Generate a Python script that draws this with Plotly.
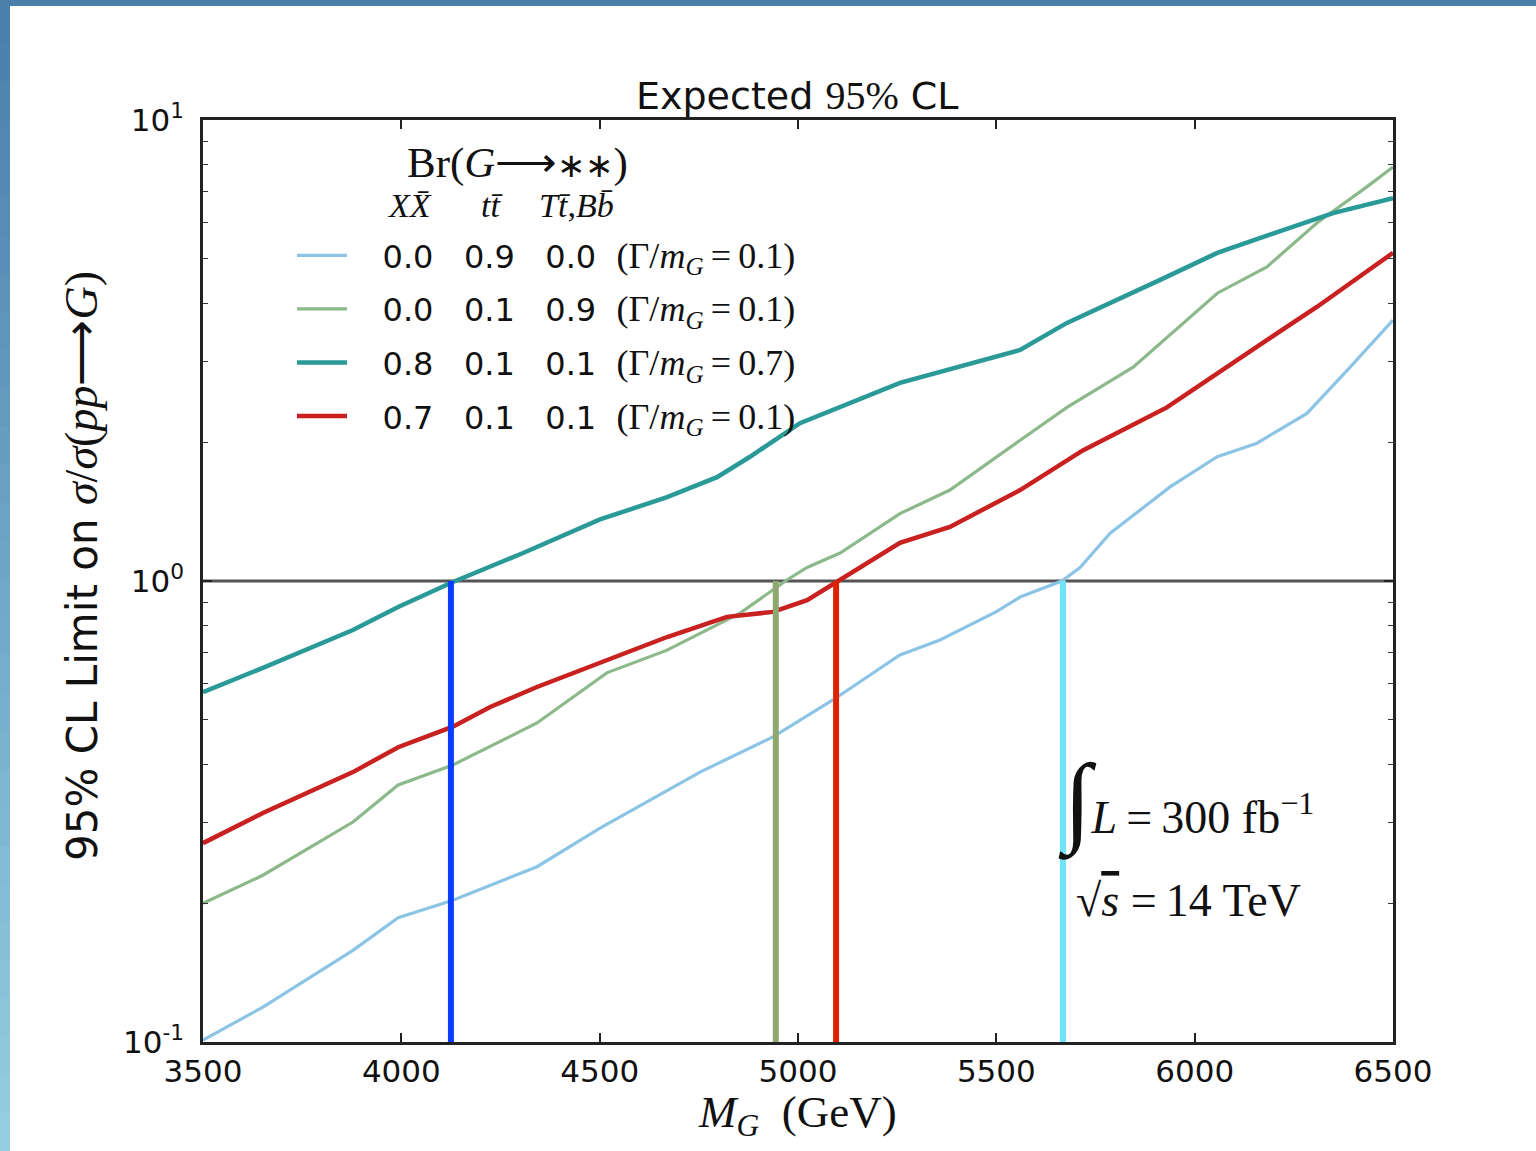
import plotly.graph_objects as go

# ---------------- data ----------------
mass_blue = [3500, 3651, 3878, 3992, 4130, 4342, 4501, 4627, 4753, 4937, 5088, 5257, 5358, 5499, 5560, 5665, 5711, 5787, 5938, 6057, 6157, 6283, 6392, 6500]
lim_blue = [0.101, 0.119, 0.158, 0.186, 0.203, 0.240, 0.291, 0.335, 0.385, 0.459, 0.552, 0.691, 0.745, 0.857, 0.923, 1.0, 1.07, 1.27, 1.60, 1.86, 1.99, 2.31, 2.91, 3.68]

mass_green = [3500, 3651, 3878, 3992, 4130, 4342, 4518, 4670, 4854, 4972, 5023, 5106, 5257, 5383, 5560, 5678, 5845, 6057, 6182, 6308, 6434, 6500]
lim_green = [0.200, 0.230, 0.300, 0.361, 0.399, 0.492, 0.632, 0.708, 0.852, 1.005, 1.07, 1.15, 1.40, 1.575, 2.02, 2.38, 2.91, 4.21, 4.80, 5.98, 7.16, 7.91]

mass_teal = [3500, 3651, 3878, 3992, 4130, 4307, 4501, 4670, 4796, 4879, 5005, 5257, 5560, 5678, 5913, 6057, 6223, 6349, 6500]
lim_teal = [0.574, 0.648, 0.783, 0.878, 0.995, 1.15, 1.36, 1.52, 1.68, 1.86, 2.20, 2.69, 3.17, 3.63, 4.50, 5.15, 5.77, 6.28, 6.77]

mass_red = [3500, 3651, 3878, 3992, 4130, 4224, 4342, 4518, 4670, 4821, 4937, 5023, 5106, 5257, 5383, 5560, 5718, 5930, 6182, 6308, 6500]
lim_red = [0.270, 0.314, 0.385, 0.436, 0.483, 0.533, 0.589, 0.674, 0.756, 0.836, 0.857, 0.909, 1.005, 1.21, 1.31, 1.575, 1.92, 2.38, 3.33, 3.93, 5.15]

legend_labels = [
    ("0.0", "0.9", "0.0", "0.1"),
    ("0.0", "0.1", "0.9", "0.1"),
    ("0.8", "0.1", "0.1", "0.7"),
    ("0.7", "0.1", "0.1", "0.1"),
]

# mass exclusion points where each limit crosses 1
excl_mass = [4125, 4944, 5096, 5668]
excl_colors = ["#0a3cff", "#8fa870", "#dd2200", "#6fe3f7"]

x_ticks = [3500, 4000, 4500, 5000, 5500, 6000, 6500]
y_ticks = [0.1, 1, 10]
y_ticktext = ["10<sup>-1</sup>", "10<sup>0</sup>", "10<sup>1</sup>"]
y_minor = [0.2, 0.3, 0.4, 0.5, 0.6, 0.7, 0.8, 0.9, 2, 3, 4, 5, 6, 7, 8, 9]

# ---------------- styling ----------------
SANS = "DejaVu Sans"
SERIF = "Liberation Serif"
W, H = 1536, 1151
L, R, T, B = 203, 1393, 120, 1042
PW, PH = R - L, B - T


def px(xp):
    return (xp - L) / PW


def py(yp):
    return (B - yp) / PH


NB = "\u00a0"
TH = "\u2009"


def leg_text(a, b, c, g):
    sp = NB * 3
    return (f"{NB*3}{a}{sp}{b}{sp}{c}{NB*2}"
            f"<span style='font-family:{SERIF};font-size:36px'>(\u0393/<i>m</i><sub><i>G</i></sub>{TH}={TH}{g})</span>")


fig = go.Figure()

# reference line at limit = 1
fig.add_trace(go.Scatter(x=[x_ticks[0], x_ticks[-1]], y=[1, 1], mode="lines",
                         line=dict(color="#555555", width=3), showlegend=False, hoverinfo="skip"))

series = [
    (mass_blue, lim_blue, "#8cc4e6", 3.2),
    (mass_green, lim_green, "#8cb98a", 3.2),
    (mass_teal, lim_teal, "#2a9a98", 4.5),
    (mass_red, lim_red, "#c8211f", 4.5),
]
for i, (xs, ys, col, w) in enumerate(series):
    fig.add_trace(go.Scatter(x=xs, y=ys, mode="lines", line=dict(color=col, width=w),
                             name=leg_text(*legend_labels[i]), legendgroup=f"g{i}"))

for m, col in zip(excl_mass, excl_colors):
    fig.add_trace(go.Scatter(x=[m, m], y=[0.1, 1], mode="lines",
                             line=dict(color=col, width=6), showlegend=False, hoverinfo="skip"))

axis_common = dict(showline=True, linecolor="#222222", linewidth=2.5, mirror="ticks",
                   ticks="inside", tickcolor="#222222", showgrid=False, zeroline=False)

fig.update_xaxes(range=[3500, 6500], tickvals=x_ticks, ticklen=9, tickwidth=1.5,
                 tickfont=dict(family=SANS, size=31, color="#111111"), **axis_common)
fig.update_yaxes(type="log", range=[-1, 1], tickvals=y_ticks, ticktext=y_ticktext,
                 ticklen=9, tickwidth=1.5, ticklabelstandoff=10,
                 tickfont=dict(family=SANS, size=31, color="#111111"),
                 minor=dict(tickvals=y_minor, ticks="inside", ticklen=5, tickwidth=1.2, tickcolor="#333333"),
                 **axis_common)

annotations = [
    dict(text=f"Expected <span style='font-family:{SERIF};font-size:40px'>95%</span> CL", x=px(797), y=py(95),
         font=dict(family=SANS, size=38, color="#111111")),
    dict(text=f"95% CL Limit on <span style='font-family:{SERIF};font-size:46px'><i>\u03c3</i>/<i>\u03c3</i>(<i>pp</i>\u27f6<i>G</i>)</span>",
         x=px(81), y=py(566), textangle=-90, font=dict(family=SANS, size=42, color="#111111")),
    dict(text="<i>M</i><sub><i>G</i></sub>" + NB * 2 + "(GeV)", x=px(797), y=py(1115),
         font=dict(family=SERIF, size=45, color="#111111")),
    dict(text="Br(<i>G</i>\u27f6<span style='font-size:34px'>\u2217\u2217</span>)", x=px(517), y=py(163),
         font=dict(family=SERIF, size=43, color="#111111")),
    dict(text="<i>X</i><i>X\u0304</i>", x=px(409), y=py(205), font=dict(family=SERIF, size=34, color="#111111")),
    dict(text="<i>t</i><i>t\u0304</i>", x=px(492), y=py(205), font=dict(family=SERIF, size=34, color="#111111")),
    dict(text="<i>T</i><i>t\u0304</i>,<i>B</i><i>b\u0304</i>", x=px(576), y=py(205),
         font=dict(family=SERIF, size=34, color="#111111")),
    dict(text="<span style='font-size:100px'>\u222b</span><i>L</i>" + TH + "=" + TH + "300 fb<sup>\u22121</sup>",
         x=px(1056), y=py(802), xanchor="left", font=dict(family=SERIF, size=46, color="#111111")),
    dict(text="\u221a<span style='text-decoration:overline'><i>s</i></span>" + NB + "=" + TH + "14 TeV",
         x=px(1074), y=py(900), xanchor="left", font=dict(family=SERIF, size=46, color="#111111")),
]
for a in annotations:
    a.setdefault("xref", "paper")
    a.setdefault("yref", "paper")
    a.setdefault("showarrow", False)
    a.setdefault("xanchor", "center")
    a.setdefault("yanchor", "middle")

# slide-like blue frame (top and left edges)
shapes = [dict(type="rect", xref="paper", yref="paper", x0=px(0), x1=px(W), y0=py(6), y1=py(0),
               fillcolor="#4a7faa", line=dict(width=0), layer="below")]
n_strips = 30
for k in range(n_strips):
    t = k / (n_strips - 1)
    r = int(74 + t * (150 - 74))
    g = int(128 + t * (205 - 128))
    bcol = int(172 + t * (225 - 172))
    y0p = 6 + k * (H - 6) / n_strips
    y1p = 6 + (k + 1) * (H - 6) / n_strips + 1
    shapes.append(dict(type="rect", xref="paper", yref="paper", x0=px(0), x1=px(10),
                       y0=py(y1p), y1=py(y0p), fillcolor=f"rgb({r},{g},{bcol})",
                       line=dict(width=0), layer="below"))

fig.update_layout(
    width=W, height=H, autosize=False,
    margin=dict(l=L, r=W - R, t=T, b=H - B, pad=0),
    paper_bgcolor="white", plot_bgcolor="white",
    annotations=annotations, shapes=shapes,
    showlegend=True,
    legend=dict(x=px(292), y=py(228), xanchor="left", yanchor="top",
                font=dict(family=SANS, size=32, color="#111111"),
                bgcolor="rgba(0,0,0,0)", borderwidth=0, itemwidth=50,
                traceorder="grouped", tracegroupgap=9),
)

fig.write_html("out.html")
